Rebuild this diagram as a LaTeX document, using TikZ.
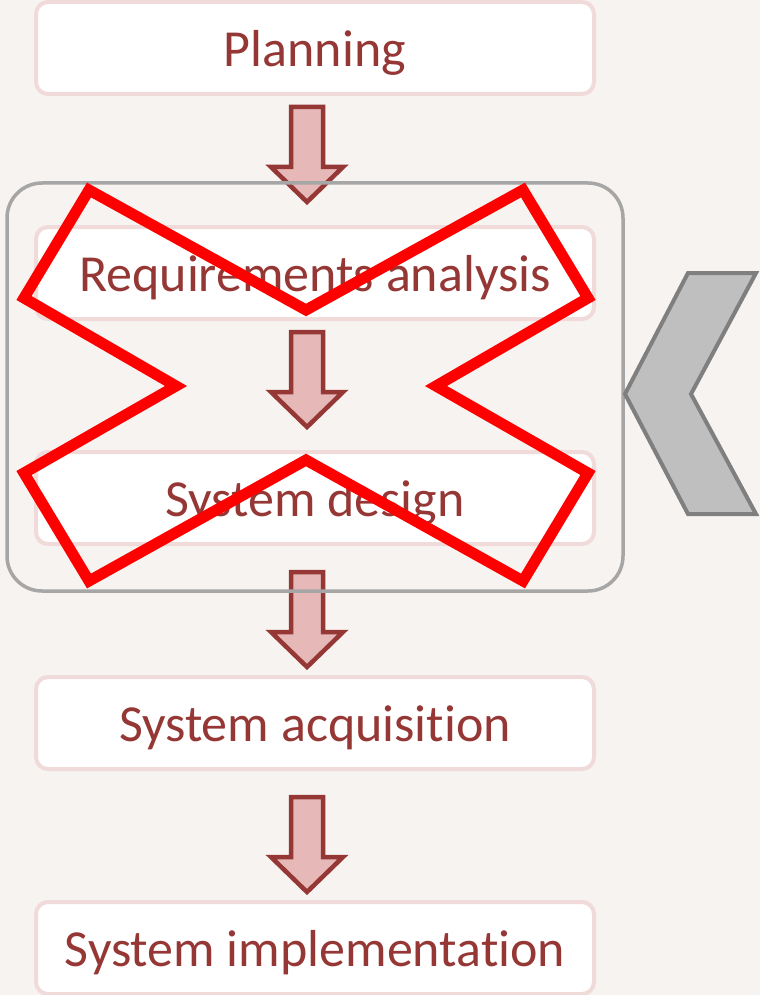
\documentclass[tikz,border=0pt]{standalone}
\usepackage{fontspec}
\setmainfont{Carlito}[RawFeature=-liga]
\usetikzlibrary{calc,fit}
\definecolor{txtred}{HTML}{953735}
\definecolor{boxline}{HTML}{F0DADA}
\definecolor{arrfill}{HTML}{E6B9B8}
\definecolor{grpline}{HTML}{A6A6A6}
\definecolor{chevfill}{HTML}{BFBFBF}
\definecolor{chevline}{HTML}{7F7F7F}
\definecolor{bgcol}{HTML}{F7F3F0}
\begin{document}
\begin{tikzpicture}[x=1pt,y=-1pt,
  stepbox/.style={draw=boxline,line width=4pt,fill=white,rounded corners=12pt,
    minimum width=558pt,minimum height=92pt,inner sep=0pt,outer sep=0pt,
    text=txtred,font=\fontsize{52}{61}\selectfont,text height=37.5pt,text depth=0pt},
  barrow/.style={draw=txtred,fill=arrfill,line width=4.5pt,line join=miter},
  grpbox/.style={draw=grpline,line width=3.5pt,rounded corners=35pt,inner xsep=29pt,inner ysep=45.5pt},
  redx/.style={draw=red,line width=11pt,line join=miter},
  chev/.style={draw=chevline,fill=chevfill,line width=4pt,line join=miter},
  downarrow/.pic={\draw[barrow] (-16,0) -- (16,0) -- (16,60) -- (36,60) -- (0,95) -- (-36,60) -- (-16,60) -- cycle;}
]
\fill[bgcol] (0,0) rectangle (760,995);
\useasboundingbox (0,0) rectangle (760,995);

\node[stepbox] (plan) at (315,48) {Planning};
\node[stepbox] (req) at (315,273) {Requirements analysis};
\node[stepbox] (des) at (315,498) {System design};
\node[stepbox] (acq) at (315,723) {System acquisition};
\node[stepbox] (imp) at (315,948) {System implementation};

\pic at ($(plan.south)+(-8,13)$) {downarrow};
\pic at ($(req.south)+(-8,13)$) {downarrow};
\pic at ($(des.south)+(-8,28)$) {downarrow};
\pic at ($(acq.south)+(-8,28)$) {downarrow};

\node[grpbox,fit=(req)(des),yshift=-1.5pt] (grp) {};

\draw[redx,shift={(306,386)}] (-217,-196) -- (0,-76) -- (217,-196) -- (282,-88) -- (130,0) -- (282,87)
  -- (217,195) -- (0,74) -- (-217,195) -- (-282,87) -- (-130,0) -- (-282,-88) -- cycle;

\draw[chev] (688,273) -- (756,273) -- (691,394) -- (756,514) -- (688,514) -- (625,394) -- cycle;
\end{tikzpicture}
\end{document}
